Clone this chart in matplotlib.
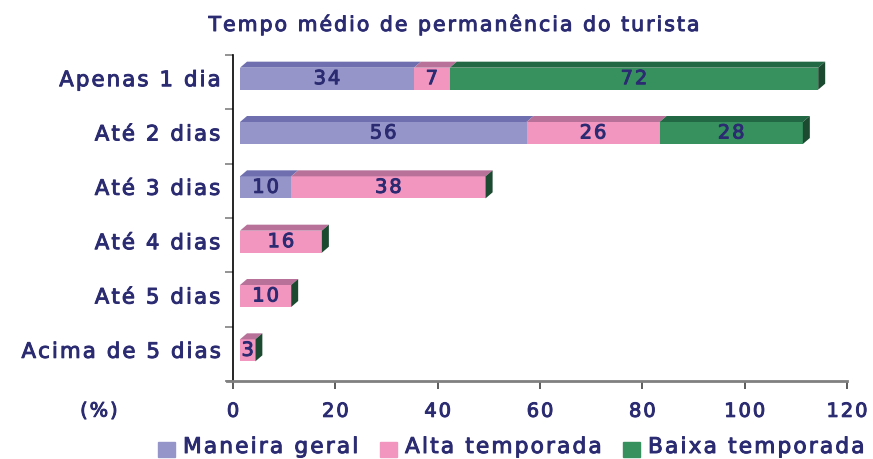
import matplotlib
matplotlib.use("Agg")
import matplotlib.pyplot as plt
import matplotlib.patheffects as pe
from matplotlib.patches import Rectangle

# ─── Dados ────────────────────────────────────────────────────────────────────
categorias = ["Apenas 1 dia", "Até 2 dias", "Até 3 dias",
              "Até 4 dias", "Até 5 dias", "Acima de 5 dias"]
maneira_geral = [34, 56, 10, 0, 0, 0]
alta_temporada = [7, 26, 38, 16, 10, 3]
baixa_temporada = [72, 28, 0, 0, 0, 0]
series_nomes = ["Maneira geral", "Alta temporada", "Baixa temporada"]
x_ticks = [0, 20, 40, 60, 80, 100, 120]

# ─── Estilo ───────────────────────────────────────────────────────────────────
TXT = "#2B2B72"
FRONT = ["#9595C9", "#F295BF", "#37915F"]
TOP = ["#6F6FB0", "#B8729A", "#236844"]
SIDE = "#1C4A30"
GROSSO = [pe.withStroke(linewidth=0.7, foreground=TXT)]


def esp(s):
    """Espaçamento entre letras (hair space)."""
    return "\u200a".join(s)


W, H = 873, 459
fig = plt.figure(figsize=(W / 100, H / 100), dpi=100)
ax_l, ax_r, ax_t, ax_b = 233, 847, 55, 381
ax = fig.add_axes([ax_l / W, 1 - ax_b / H, (ax_r - ax_l) / W, (ax_b - ax_t) / H])

n = len(categorias)
ax.set_xlim(0, 120)
ax.set_ylim(n - 0.5, -0.5)
ux = 120 / (ax_r - ax_l)      # unidades por pixel (x)
uy = n / (ax_b - ax_t)        # unidades por pixel (y)

off = 7 * ux                  # deslocamento da face frontal
dx, dy = 7 * ux, 6 * uy       # profundidade 3D
bh = 22 * uy                  # altura da face frontal

dados = [maneira_geral, alta_temporada, baixa_temporada]
for i in range(n):
    yc = i - 3.5 * uy
    ytop, ybot = yc - bh / 2, yc + bh / 2
    left = off
    for s, vals in enumerate(dados):
        v = vals[i]
        if v <= 0:
            continue
        right = left + v
        ax.fill([left, right, right, left], [ytop, ytop, ybot, ybot],
                color=FRONT[s], lw=0, zorder=3)
        ax.fill([left, right, right + dx, left + dx],
                [ytop, ytop, ytop - dy, ytop - dy],
                color=TOP[s], lw=0, zorder=3)
        ax.text((left + right) / 2, yc, esp(str(v)), ha="center", va="center",
                fontsize=14, color=TXT, zorder=5, path_effects=GROSSO)
        left = right
    ax.fill([left, left + dx, left + dx, left],
            [ytop, ytop - dy, ybot - dy, ybot],
            color=SIDE, lw=0, zorder=3)

# ─── Eixos ────────────────────────────────────────────────────────────────────
for sp in ["top", "right"]:
    ax.spines[sp].set_visible(False)
ax.spines["left"].set_color("black")
ax.spines["left"].set_linewidth(1.2)
ax.spines["bottom"].set_color("#808080")
ax.spines["bottom"].set_linewidth(2)
ax.spines["bottom"].set_bounds(-6 * ux, 120)

ax.set_xticks(x_ticks)
ax.set_xticklabels([esp(str(t)) for t in x_ticks])
ax.tick_params(axis="x", direction="out", length=6, width=1.2, color="#404040",
               labelsize=14, labelcolor=TXT, pad=9)
for lab in ax.get_xticklabels():
    lab.set_path_effects(GROSSO)

ax.set_yticks([i - 0.5 for i in range(n + 1)])
ax.set_yticklabels([])
ax.tick_params(axis="y", direction="out", length=6, width=1.2, color="#808080")
for i, cat in enumerate(categorias):
    ax.text(-13 * ux, i - 2 * uy, esp(cat), ha="right", va="center",
            fontsize=15.3, color=TXT, path_effects=GROSSO)

fig.text(99 / W, 1 - 411 / H, esp("(%)"), ha="center", va="center",
         fontsize=14, color=TXT, path_effects=GROSSO)

fig.text(454 / W, 1 - 25 / H, esp("Tempo médio de permanência do turista"),
         ha="center", va="center", fontsize=14.7, color=TXT,
         path_effects=GROSSO)

# ─── Legenda ──────────────────────────────────────────────────────────────────
leg_x = [158, 380, 623]
for s, nome in enumerate(series_nomes):
    fig.patches.append(Rectangle((leg_x[s] / W, 1 - 457 / H), 17 / W, 15 / H,
                                 transform=fig.transFigure, color=FRONT[s]))
    fig.text((leg_x[s] + 25) / W, 1 - 447 / H, esp(nome), ha="left",
             va="center", fontsize=15.6, color=TXT, path_effects=GROSSO)

fig.savefig("out.png", dpi=100)
